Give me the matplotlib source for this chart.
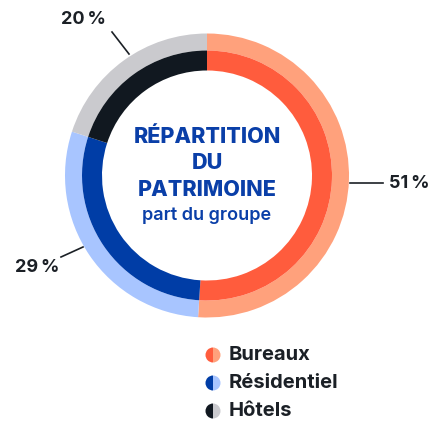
import matplotlib
matplotlib.use('Agg')
import matplotlib.pyplot as plt
from matplotlib.patches import Wedge

plt.rcParams['font.family'] = ['Inter', 'DejaVu Sans']

# data
categories = ['Bureaux', 'Résidentiel', 'Hôtels']
shares = [51, 29, 20]
pct_labels = ['51\u2009%', '29\u2009%', '20\u2009%']
dark_colors = ['#ff5c3d', '#003da6', '#111820']
light_colors = ['#ffa17c', '#a8c5ff', '#cacace']

title_color = '#0a3fa8'
text_color = '#1b2026'

W, H = 430, 426
fig = plt.figure(figsize=(W / 100, H / 100), dpi=100)
ax = fig.add_axes([0, 0, 1, 1])

cx, cy = 207, H - 175.5
r_out, r_mid, r_in = 142, 125, 105

ax.pie(shares, colors=light_colors, startangle=90, counterclock=False,
       radius=r_out, center=(cx, cy), frame=True,
       wedgeprops=dict(width=r_out - r_mid, linewidth=0))
ax.pie(shares, colors=dark_colors, startangle=90, counterclock=False,
       radius=r_mid, center=(cx, cy), frame=True,
       wedgeprops=dict(width=r_mid - r_in, linewidth=0))

ax.set_xlim(0, W)
ax.set_ylim(0, H)
ax.set_aspect('equal')
ax.axis('off')

# leader lines + labels (pixel coords, y from top)
leaders = [((350, 183), (383, 183)), ((61, 257), (83, 247)), ((129, 54), (112, 32))]
label_pos = [(389, 183, 'left'), (59, 268, 'right'), (106, 20, 'right')]
for (p0, p1), (lx, ly, ha), txt in zip(leaders, label_pos, pct_labels):
    ax.plot([p0[0], p1[0]], [H - p0[1], H - p1[1]], color=text_color, lw=1.2)
    ax.text(lx, H - ly, txt, ha=ha, va='center', fontsize=13, fontweight='bold',
            color=text_color)

# centre title
for txt, y in [('RÉPARTITION', 137), ('DU', 163), ('PATRIMOINE', 190)]:
    ax.text(cx, H - y, txt, ha='center', va='center', fontsize=15.5,
            fontweight='heavy', color=title_color)
ax.text(cx, H - 215, 'part du groupe', ha='center', va='center', fontsize=13,
        fontweight='semibold', color=title_color)

# legend with half/half dots
lx, lr = 213, 7.5
for i, name in enumerate(categories):
    y = H - (355 + i * 28)
    ax.add_patch(Wedge((lx, y), lr, 90, 270, color=dark_colors[i], lw=0))
    ax.add_patch(Wedge((lx, y), lr, 270, 90, color=light_colors[i], lw=0))
    ax.text(lx + 16, y, name, ha='left', va='center', fontsize=14.5,
            fontweight='bold', color=text_color)

fig.savefig('out.png', dpi=100)
